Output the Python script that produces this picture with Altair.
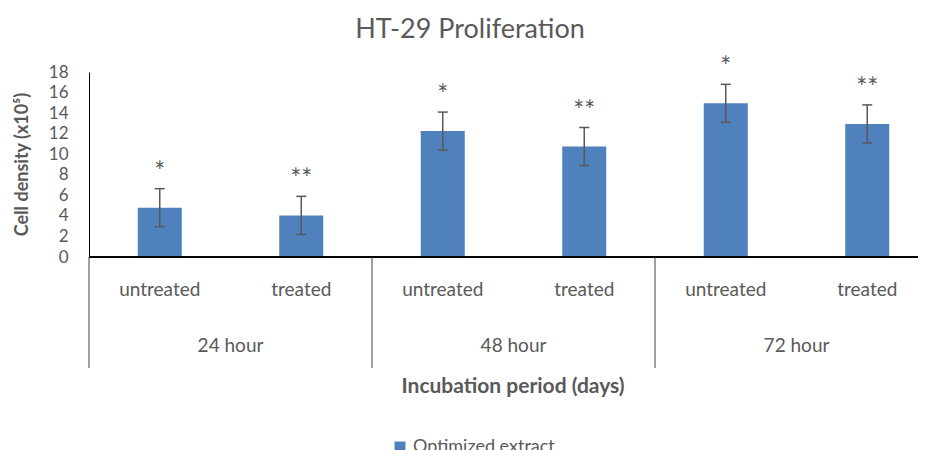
import altair as alt
import pandas as pd

title_text = "HT-29 Proliferation"
groups = ["24 hour", "48 hour", "72 hour"]
treatments = ["untreated", "treated"]
means = [4.8, 4.05, 12.25, 10.75, 14.95, 12.95]
errors = [1.85, 1.85, 1.85, 1.85, 1.85, 1.85]
stars = ["*", "**", "*", "**", "*", "**"]
y_ticks = [0, 2, 4, 6, 8, 10, 12, 14, 16, 18]
series_name = "Optimized extract"
y_title = "Cell density (x10\u2075)"
x_title = "Incubation period (days)"

rows = []
for gi, g in enumerate(groups):
    for ti, t in enumerate(treatments):
        i = gi * 2 + ti
        rows.append(dict(pos=i + 0.5, group=g, treatment=t, mean=means[i],
                         lo=means[i] - errors[i], hi=means[i] + errors[i],
                         star=stars[i], series=series_name))
df = pd.DataFrame(rows)
gdf = pd.DataFrame({"group": groups, "center": [2 * i + 1 for i in range(len(groups))]})
edf = pd.DataFrame({"edge": [2 * i for i in range(len(groups) + 1)]})

FONT = "Lato"
GREY = "#595959"
W, H = 829, 185
FULL = 849  # full category-axis length in pixels (extends past the visible area)
xs = alt.Scale(domain=[0, 6 * W / FULL], nice=False, zero=False, padding=0)
ys = alt.Scale(domain=[0, 18], nice=False)

yax = alt.Axis(
    values=y_ticks, grid=False, ticks=False, tickSize=0, labelPadding=21,
    labelOverlap=False, labelBound=False, labelFlush=False,
    domain=True, domainColor="black", domainWidth=1,
    labelFont=FONT, labelFontSize=17, labelColor=GREY,
    title=y_title, titleFont=FONT, titleFontSize=18, titleFontWeight="bold",
    titleColor=GREY, titleAngle=270, titleX=-67, titleY=92,
    titleAlign="center", titleBaseline="middle")
X = alt.X("pos:Q", scale=xs, axis=None)

base = alt.Chart(df)

bars = base.mark_bar(width=44).encode(
    x=X,
    y=alt.Y("mean:Q", scale=ys, axis=yax),
    color=alt.Color("series:N", scale=alt.Scale(range=["#4f81bd"]),
                    legend=alt.Legend(title=None, orient="none", legendX=302, legendY=366,
                                      symbolType="square", symbolSize=120, symbolStrokeWidth=0,
                                      labelFont=FONT, labelFontSize=18, labelColor=GREY)),
)

err = base.mark_rule(color=GREY, strokeWidth=1.5).encode(
    x=X, y=alt.Y("lo:Q", scale=ys, axis=yax), y2="hi:Q")
cap_hi = base.mark_rule(color=GREY, strokeWidth=1.5, xOffset=-5, x2Offset=5).encode(
    x=X, x2="pos:Q", y=alt.Y("hi:Q", scale=ys, axis=yax))
cap_lo = base.mark_rule(color=GREY, strokeWidth=1.5, xOffset=-5, x2Offset=5).encode(
    x=X, x2="pos:Q", y=alt.Y("lo:Q", scale=ys, axis=yax))

star_txt = base.mark_text(font=FONT, fontSize=26, color=GREY, baseline="alphabetic", dy=-8).encode(
    x=X, y=alt.Y("hi:Q", scale=ys, axis=yax), text="star:N")

xaxis_line = base.mark_rule(color="black", strokeWidth=1).encode(
    x=alt.value(0), x2=alt.value(FULL), y=alt.value(H))

dividers = alt.Chart(edf).mark_rule(color="#404040", strokeWidth=1).encode(
    x=alt.X("edge:Q", scale=xs, axis=None), y=alt.value(H), y2=alt.value(296))

cat_labels = base.mark_text(font=FONT, fontSize=19, color=GREY, baseline="middle").encode(
    x=X, y=alt.value(218), text="treatment:N")

grp_labels = alt.Chart(gdf).mark_text(font=FONT, fontSize=19, color=GREY, baseline="middle").encode(
    x=alt.X("center:Q", scale=xs, axis=None), y=alt.value(274), text="group:N")

xtitle = alt.Chart(pd.DataFrame({"t": [x_title]})).mark_text(
    font=FONT, fontSize=21, fontWeight="bold", color=GREY, baseline="middle").encode(
    x=alt.value(424), y=alt.value(315), text="t:N")

ttl = alt.Chart(pd.DataFrame({"t": [title_text]})).mark_text(
    font=FONT, fontSize=27, color=GREY, baseline="middle").encode(
    x=alt.value(381), y=alt.value(-42), text="t:N")

chart = alt.layer(bars, err, cap_hi, cap_lo, star_txt, xaxis_line, dividers,
                  cat_labels, grp_labels, xtitle, ttl).properties(
    width=W, height=H,
    autosize=alt.AutoSizeParams(type="none"),
    padding={"left": 81, "top": 64, "right": 0, "bottom": 193},
).configure_view(stroke=None).configure_axis(labelOverlap=False)

chart.save("out.html", embed_options={"renderer": "svg", "actions": False})
